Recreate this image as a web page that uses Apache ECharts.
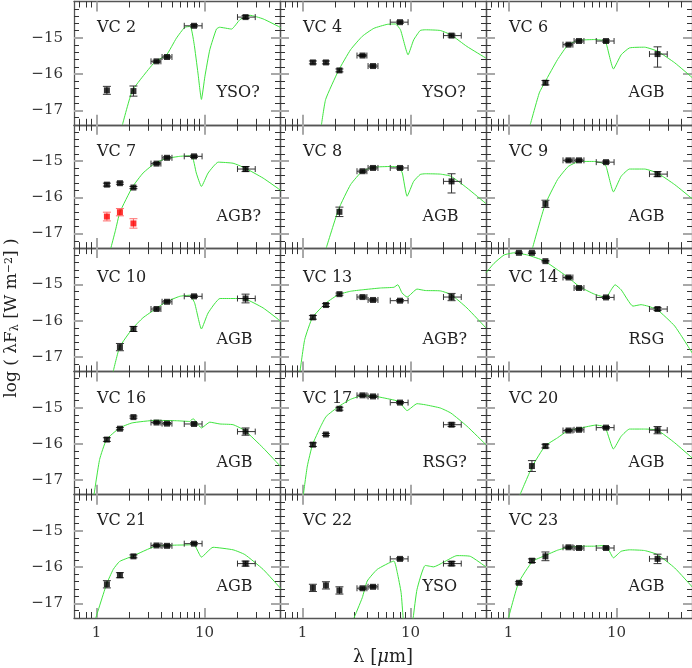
<!DOCTYPE html>
<html><head><meta charset="utf-8">
<script src="https://cdn.jsdelivr.net/npm/echarts@6/dist/echarts.min.js"></script>
<style>html,body{margin:0;padding:0;background:#fff}#c{width:692px;height:668px}</style>
</head><body><div id="c"></div><script>
// ---------------- data ----------------
const bandLam = [1.25, 1.65, 2.2, 3.6, 4.5, 8.0, 24];
const bandLo  = [null, null, null, 3.2, 4.05, 6.5, 20.2];
const bandHi  = [null, null, null, 3.95, 5.0, 9.5, 29.5];

const xMajorTicks = [1, 10];
const xMinorTicks = [0.7, 0.8, 0.9, 2, 3, 4, 5, 6, 7, 8, 9, 20, 30, 40];
const yMajorTicks = [-17, -16, -15];
const yMinorTicks = [-17.2, -16.8, -16.6, -16.4, -16.2, -15.8, -15.6, -15.4, -15.2, -14.8, -14.6, -14.4, -14.2];

const panelNames   = ['VC 2', 'VC 4', 'VC 6', 'VC 7', 'VC 8', 'VC 9', 'VC 10', 'VC 13', 'VC 14', 'VC 16', 'VC 17', 'VC 20', 'VC 21', 'VC 22', 'VC 23'];
const panelClasses = ['YSO?', 'YSO?', 'AGB', 'AGB?', 'AGB', 'AGB', 'AGB', 'AGB?', 'RSG', 'AGB', 'RSG?', 'AGB', 'AGB', 'YSO', 'AGB'];

const vc2Flux = [-16.45, null, -16.47, -15.65, -15.53, -14.67, -14.43];
const vc2Err  = [0.11, 0, 0.14, 0.03, 0.03, 0.03, 0.04];
const vc2ModelLam  = [1.74, 2.14, 2.8, 3.52, 4.44, 5.5, 6.58, 7.4, 8.0, 8.7, 9.37, 10.1, 11.2, 12.9, 13.8, 17.8, 21.3, 26.3, 34.9, 50.9];
const vc2ModelFlux = [-17.4, -16.47, -16.0, -15.65, -15.48, -15.01, -14.71, -14.69, -15.15, -15.97, -16.70, -16.06, -15.33, -14.76, -14.71, -14.76, -14.50, -14.38, -14.48, -14.72];

const vc4Flux = [-15.68, -15.68, -15.90, -15.49, -15.78, -14.57, -14.94];
const vc4Err  = [0.04, 0.04, 0.04, 0.03, 0.03, 0.03, 0.04];
const vc4ModelLam  = [1.50, 1.64, 2.16, 2.79, 3.58, 4.58, 6.09, 7.25, 8.08, 9.5, 10.7, 12.3, 13.7, 18.9, 23.7, 33.3, 49.9];
const vc4ModelFlux = [-17.4, -16.70, -15.90, -15.33, -14.96, -14.74, -14.63, -14.62, -14.78, -15.47, -15.06, -14.80, -14.78, -14.80, -14.92, -15.24, -15.56];

const vc6Flux = [null, null, -16.24, -15.19, -15.09, -15.09, -15.45];
const vc6Err  = [0, 0, 0.06, 0.03, 0.03, 0.03, [0.36, 0.2]];
const vc6ModelLam  = [1.59, 1.93, 2.18, 2.85, 3.58, 4.53, 6.25, 7.46, 8.02, 9.37, 11.05, 13.2, 18.2, 23.9, 34.6, 51.2];
const vc6ModelFlux = [-17.4, -16.52, -16.22, -15.60, -15.19, -15.07, -15.05, -15.07, -15.15, -15.86, -15.47, -15.28, -15.26, -15.37, -15.69, -16.12];

const vc7Flux = [-15.65, -15.61, -15.73, -15.07, -14.91, -14.87, -15.22];
const vc7Err  = [0.04, 0.03, 0.03, 0.03, 0.03, 0.03, 0.07];
const vc7RedFlux = [-16.53, -16.41, -16.72, null, null, null, null];
const vc7RedErr  = [0.12, 0.1, 0.13, 0, 0, 0, 0];
const vc7ModelLam  = [1.36, 1.5, 1.65, 2.15, 2.70, 3.52, 4.44, 5.9, 7.6, 8.4, 9.37, 10.8, 13.4, 18.4, 23.6, 34.9, 50.9];
const vc7ModelFlux = [-17.4, -16.91, -16.41, -15.72, -15.33, -15.05, -14.93, -14.87, -14.85, -15.33, -15.70, -15.33, -15.03, -15.06, -15.19, -15.47, -15.81];

const vc8Flux = [null, null, -16.40, -15.28, -15.19, -15.19, -15.56];
const vc8Err  = [0, 0, 0.13, 0.03, 0.03, 0.03, [0.32, 0.21]];
const vc8ModelLam  = [1.66, 2.16, 2.79, 3.58, 4.58, 6.54, 7.8, 8.4, 9.3, 10.7, 12.3, 13.7, 18.9, 23.7, 33.3, 49.9];
const vc8ModelFlux = [-17.4, -16.33, -15.65, -15.28, -15.17, -15.15, -15.17, -15.33, -15.97, -15.56, -15.37, -15.35, -15.36, -15.42, -15.74, -16.17];

const vc9Flux = [null, null, -16.18, -14.98, -14.98, -15.03, -15.36];
const vc9Err  = [0, 0, 0.1, 0.03, 0.03, 0.03, 0.07];
const vc9ModelLam  = [1.67, 2.18, 2.85, 3.58, 4.53, 6.25, 7.46, 8.02, 9.37, 11.05, 13.2, 18.2, 23.9, 34.6, 51.2];
const vc9ModelFlux = [-17.4, -16.21, -15.51, -15.15, -15.01, -15.01, -15.06, -15.15, -15.85, -15.42, -15.22, -15.22, -15.33, -15.65, -16.06];

const vc10Flux = [null, -16.73, -16.23, -15.68, -15.48, -15.33, -15.39];
const vc10Err  = [0, 0.1, 0.07, 0.03, 0.03, 0.03, 0.12];
const vc10ModelLam  = [1.43, 1.64, 2.14, 2.70, 3.52, 4.44, 5.9, 7.3, 8.1, 9.37, 10.8, 13.9, 18.4, 23.6, 34.9, 50.9];
const vc10ModelFlux = [-17.4, -16.73, -16.23, -15.92, -15.68, -15.48, -15.33, -15.30, -15.51, -16.23, -15.79, -15.39, -15.39, -15.40, -15.65, -16.02];

const vc13Flux = [-15.91, -15.57, -15.27, -15.35, -15.43, -15.45, -15.35];
const vc13Err  = [0.05, 0.04, 0.03, 0.03, 0.03, 0.03, 0.1];
const vc13ModelLam  = [0.95, 1.05, 1.24, 1.66, 2.16, 2.79, 3.58, 5.28, 7.02, 7.63, 8.37, 9.31, 11.5, 13.7, 18.9, 23.7, 33.3, 49.9];
const vc13ModelFlux = [-17.4, -16.52, -15.91, -15.51, -15.28, -15.19, -15.15, -15.10, -15.08, -15.01, -15.24, -15.35, -15.13, -15.17, -15.18, -15.28, -15.65, -16.20];

const vc14Flux = [-14.13, -14.13, -14.36, -14.81, -15.10, -15.36, -15.68];
const vc14Err  = [0.02, 0.02, 0.02, 0.03, 0.03, 0.03, 0.04];
const vc14ModelLam  = [0.62, 0.736, 0.911, 1.13, 1.50, 2.14, 2.85, 3.58, 4.53, 6.25, 8.02, 8.93, 9.7, 11.05, 14.2, 16.9, 19.5, 23.9, 34.6, 51.2];
const vc14ModelFlux = [-14.68, -14.42, -14.19, -14.13, -14.19, -14.35, -14.60, -14.81, -15.06, -15.27, -15.36, -15.15, -15.01, -15.15, -15.60, -15.56, -15.60, -15.70, -16.15, -16.93];

const vc16Flux = [-15.88, -15.58, -15.26, -15.41, -15.44, -15.45, -15.66];
const vc16Err  = [0.05, 0.03, 0.03, 0.03, 0.03, 0.03, 0.1];
const vc16ModelLam  = [0.95, 1.07, 1.24, 1.64, 2.14, 3.52, 5.5, 7.3, 7.85, 8.4, 9.37, 11.2, 13.9, 18.4, 23.6, 34.9, 50.9];
const vc16ModelFlux = [-17.4, -16.43, -15.88, -15.56, -15.42, -15.35, -15.36, -15.38, -15.30, -15.40, -15.56, -15.40, -15.45, -15.47, -15.63, -16.11, -16.63];

const vc17Flux = [-16.02, -15.74, -15.03, -14.66, -14.69, -14.86, -15.47];
const vc17Err  = [0.05, 0.03, 0.04, 0.03, 0.03, 0.03, 0.05];
const vc17ModelLam  = [1.02, 1.11, 1.24, 1.48, 1.66, 2.16, 2.79, 3.58, 4.58, 6.54, 7.8, 9.3, 11.5, 13.7, 18.9, 23.7, 33.3, 49.9];
const vc17ModelFlux = [-17.4, -16.61, -16.02, -15.51, -15.24, -14.97, -14.77, -14.67, -14.68, -14.77, -14.83, -15.08, -14.89, -14.92, -15.01, -15.15, -15.51, -16.02];

const vc20Flux = [null, -16.61, -16.06, -15.63, -15.61, -15.55, -15.62];
const vc20Err  = [0, 0.15, 0.05, 0.03, 0.03, 0.03, 0.1];
const vc20ModelLam  = [1.28, 1.67, 2.18, 2.85, 3.58, 4.69, 6.47, 7.46, 8.02, 9.37, 11.05, 13.2, 18.2, 23.9, 34.6, 51.2];
const vc20ModelFlux = [-17.4, -16.61, -16.06, -15.83, -15.63, -15.56, -15.48, -15.51, -15.60, -16.14, -15.79, -15.59, -15.59, -15.62, -15.97, -16.41];

const vc21Flux = [-16.47, -16.22, -15.70, -15.40, -15.41, -15.35, -15.90];
const vc21Err  = [0.1, 0.07, 0.04, 0.03, 0.03, 0.03, 0.07];
const vc21ModelLam  = [0.986, 1.24, 1.43, 1.64, 2.14, 3.52, 5.5, 7.3, 7.85, 8.4, 9.37, 12.0, 18.4, 23.6, 34.9, 50.9];
const vc21ModelFlux = [-17.4, -16.47, -16.06, -15.84, -15.70, -15.42, -15.39, -15.38, -15.33, -15.47, -15.72, -15.45, -15.52, -15.65, -16.06, -16.59];

const vc22Flux = [-16.57, -16.50, -16.64, -16.58, -16.54, -15.77, -15.90];
const vc22Err  = [0.1, 0.1, 0.1, 0.03, 0.03, 0.03, 0.06];
const vc22ModelLam  = [3.0, 3.58, 3.98, 4.92, 7.02, 7.55, 8.19, 8.55, 9.4, 10.6, 11.5, 13.7, 16.4, 20.3, 26.9, 35.8, 49.9];
const vc22ModelFlux = [-17.4, -16.84, -16.38, -16.06, -15.83, -16.15, -16.70, -17.39, -18.6, -17.39, -16.61, -15.95, -15.99, -15.86, -15.68, -15.70, -15.99];

const vc23Flux = [-16.43, -15.82, -15.70, -15.45, -15.47, -15.47, -15.77];
const vc23Err  = [0.03, 0.05, 0.12, 0.03, 0.03, 0.03, 0.13];
const vc23ModelLam  = [1.0, 1.24, 1.67, 2.18, 2.85, 3.58, 4.69, 6.25, 7.62, 8.3, 9.37, 11.05, 13.2, 18.2, 23.9, 34.6, 51.2];
const vc23ModelFlux = [-17.4, -16.43, -15.84, -15.68, -15.53, -15.45, -15.42, -15.42, -15.40, -15.47, -15.74, -15.56, -15.52, -15.54, -15.65, -16.02, -16.57];

const fluxSets  = [vc2Flux, vc4Flux, vc6Flux, vc7Flux, vc8Flux, vc9Flux, vc10Flux, vc13Flux, vc14Flux, vc16Flux, vc17Flux, vc20Flux, vc21Flux, vc22Flux, vc23Flux];
const errSets   = [vc2Err, vc4Err, vc6Err, vc7Err, vc8Err, vc9Err, vc10Err, vc13Err, vc14Err, vc16Err, vc17Err, vc20Err, vc21Err, vc22Err, vc23Err];
const modelLams = [vc2ModelLam, vc4ModelLam, vc6ModelLam, vc7ModelLam, vc8ModelLam, vc9ModelLam, vc10ModelLam, vc13ModelLam, vc14ModelLam, vc16ModelLam, vc17ModelLam, vc20ModelLam, vc21ModelLam, vc22ModelLam, vc23ModelLam];
const modelFluxes = [vc2ModelFlux, vc4ModelFlux, vc6ModelFlux, vc7ModelFlux, vc8ModelFlux, vc9ModelFlux, vc10ModelFlux, vc13ModelFlux, vc14ModelFlux, vc16ModelFlux, vc17ModelFlux, vc20ModelFlux, vc21ModelFlux, vc22ModelFlux, vc23ModelFlux];

// ---------------- layout / style ----------------
const FONT = 'DejaVu Serif';
const XMIN = Math.log10(0.62), XMAX = Math.log10(50);
const YMIN = -17.4, YMAX = -14.0;
const colLeft = [74, 280, 486], colW = 206;
const rowTop = [1.5, 124.8, 248.1, 371.4, 494.7], rowH = 123.3;
const nameDy = [26, 27.3, 29.8, 27.6, 26.3];
const MODEL_COLOR = '#3fe43f';

function xAx(i, pos, ticks, len, col, w, showLine, labels) {
  return {
    type: 'value', gridIndex: i, position: pos, min: XMIN, max: XMAX,
    axisLine: {show: showLine, onZero: false, lineStyle: {color: '#555', width: 1.3}},
    axisTick: {show: true, inside: true, length: len, customValues: ticks.map(Math.log10), lineStyle: {color: col, width: w}},
    axisLabel: labels ? {show: true, customValues: xMajorTicks.map(Math.log10),
      formatter: v => String(Math.round(Math.pow(10, v))), margin: 8,
      fontFamily: FONT, fontSize: 15, color: '#333'} : {show: false},
    splitLine: {show: false}
  };
}
function yAx(i, pos, ticks, len, col, w, showLine, labels) {
  return {
    type: 'value', gridIndex: i, position: pos, min: YMIN, max: YMAX,
    axisLine: {show: showLine, onZero: false, lineStyle: {color: '#555', width: 1.3}},
    axisTick: {show: true, inside: true, length: len, customValues: ticks, lineStyle: {color: col, width: w}},
    axisLabel: labels ? {show: true, customValues: yMajorTicks,
      formatter: v => '\u2212' + Math.abs(v), margin: 11,
      fontFamily: FONT, fontSize: 15, color: '#333'} : {show: false},
    splitLine: {show: false}
  };
}
function errRenderer(color) {
  return function (params, api) {
    const x = api.value(0), y = api.value(1), xl = api.value(2), xh = api.value(3), yl = api.value(4), yh = api.value(5);
    const ch = [];
    const st = {stroke: color, lineWidth: 1};
    if (xh > xl) {
      const a = api.coord([xl, y]), b = api.coord([xh, y]);
      ch.push({type: 'line', shape: {x1: a[0], y1: a[1], x2: b[0], y2: b[1]}, style: st});
      ch.push({type: 'line', shape: {x1: a[0], y1: a[1] - 3, x2: a[0], y2: a[1] + 3}, style: st});
      ch.push({type: 'line', shape: {x1: b[0], y1: b[1] - 3, x2: b[0], y2: b[1] + 3}, style: st});
    }
    if (yh > yl) {
      const a = api.coord([x, yl]), b = api.coord([x, yh]);
      ch.push({type: 'line', shape: {x1: a[0], y1: a[1], x2: b[0], y2: b[1]}, style: st});
      ch.push({type: 'line', shape: {x1: a[0] - 4, y1: a[1], x2: a[0] + 4, y2: a[1]}, style: st});
      ch.push({type: 'line', shape: {x1: b[0] - 4, y1: b[1], x2: b[0] + 4, y2: b[1]}, style: st});
    }
    return {type: 'group', children: ch};
  };
}
function pointData(flux, err) {
  const pts = [], bars = [];
  flux.forEach((f, k) => {
    if (f === null) return;
    const x = Math.log10(bandLam[k]);
    const xl = bandLo[k] ? Math.log10(bandLo[k]) : x;
    const xh = bandHi[k] ? Math.log10(bandHi[k]) : x;
    const e = err[k];
    const lo = Array.isArray(e) ? e[0] : e, hi = Array.isArray(e) ? e[1] : e;
    pts.push([x, f]);
    bars.push([x, f, xl, xh, f - lo, f + hi]);
  });
  return {pts, bars};
}

const grids = [], xAxes = [], yAxes = [], series = [], graphics = [];
for (let i = 0; i < 15; i++) {
  const col = i % 3, row = Math.floor(i / 3);
  grids.push({left: colLeft[col], top: rowTop[row], width: colW, height: rowH, containLabel: false});
  const bottom = row === 4, left = col === 0;
  xAxes.push(xAx(i, 'bottom', xMajorTicks, 10, '#a8a8a8', 2, true, bottom));
  xAxes.push(xAx(i, 'bottom', xMinorTicks, 6, '#333', 1, false, false));
  xAxes.push(xAx(i, 'top', xMajorTicks, 10, '#a8a8a8', 2, true, false));
  xAxes.push(xAx(i, 'top', xMinorTicks, 6, '#333', 1, false, false));
  yAxes.push(yAx(i, 'left', yMajorTicks, 9, '#a8a8a8', 2, true, left));
  yAxes.push(yAx(i, 'left', yMinorTicks, 5, '#333', 1, false, false));
  yAxes.push(yAx(i, 'right', yMajorTicks, 9, '#a8a8a8', 2, true, false));
  yAxes.push(yAx(i, 'right', yMinorTicks, 5, '#333', 1, false, false));
  const ax = i * 4;

  series.push({
    type: 'line', xAxisIndex: ax, yAxisIndex: ax, silent: true, clip: true,
    showSymbol: false, symbol: 'none', smooth: 0.15, z: 2,
    lineStyle: {color: MODEL_COLOR, width: 1},
    data: modelLams[i].map((l, k) => [Math.log10(l), modelFluxes[i][k]])
  });

  const sets = [{flux: fluxSets[i], err: errSets[i], color: '#000', bar: '#333'}];
  if (i === 3) sets.push({flux: vc7RedFlux, err: vc7RedErr, color: '#ff0000', bar: '#ff6a6a'});
  sets.forEach(s => {
    const d = pointData(s.flux, s.err);
    series.push({
      type: 'custom', xAxisIndex: ax, yAxisIndex: ax, silent: true, z: 3,
      renderItem: errRenderer(s.bar), encode: {x: 0, y: 1}, data: d.bars
    });
    series.push({
      type: 'scatter', xAxisIndex: ax, yAxisIndex: ax, silent: true, z: 4,
      symbol: 'rect', symbolSize: 6, itemStyle: {color: s.color}, data: d.pts
    });
  });

  graphics.push({
    type: 'text', x: colLeft[col] + 23, y: rowTop[row] + nameDy[row], silent: true,
    style: {text: panelNames[i], fill: '#222', font: '16px "' + FONT + '"', align: 'left', verticalAlign: 'middle'}
  });
  graphics.push({
    type: 'text', x: colLeft[col] + 142.5, y: rowTop[row] + 91.8, silent: true,
    style: {text: panelClasses[i], fill: '#222', font: '16px "' + FONT + '"', align: 'left', verticalAlign: 'middle'}
  });
}

graphics.push({
  type: 'text', x: 383, y: 657, silent: true,
  style: {text: 'λ [{it|μ}m]', fill: '#222', font: '18px "' + FONT + '"', align: 'center', verticalAlign: 'middle',
    rich: {it: {fontStyle: 'italic', fontFamily: FONT, fontSize: 18, fill: '#222'}}}
});
graphics.push({
  type: 'text', x: 12, y: 318, rotation: Math.PI / 2, silent: true,
  style: {text: 'log ( λF{sub|λ} [W m{sup|\u22122}] )', fill: '#222', font: '17px "' + FONT + '"', align: 'center', verticalAlign: 'middle',
    rich: {
      sub: {fontFamily: FONT, fontSize: 11, fill: '#222', verticalAlign: 'bottom', lineHeight: 12},
      sup: {fontFamily: FONT, fontSize: 11, fill: '#222', verticalAlign: 'top', lineHeight: 12}
    }}
});

const chart = echarts.init(document.getElementById('c'), null, {renderer: 'canvas'});
chart.setOption({
  animation: false,
  backgroundColor: '#fff',
  grid: grids, xAxis: xAxes, yAxis: yAxes, series: series, graphic: graphics
});
</script></body></html>
